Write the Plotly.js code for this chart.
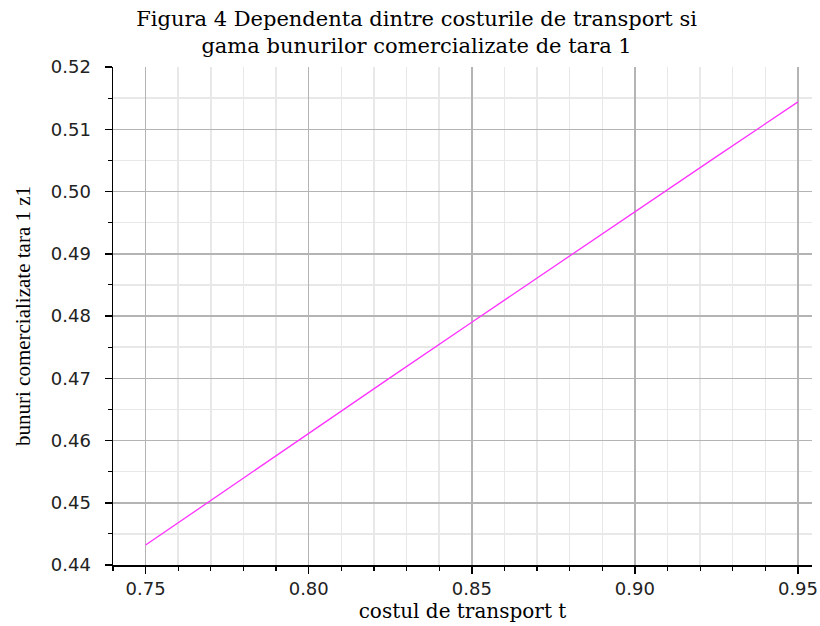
<!DOCTYPE html>
<html>
<head>
<meta charset="utf-8">
<script src="https://cdn.plot.ly/plotly-3.0.1.min.js"></script>
<style>html,body{margin:0;padding:0;background:#fff;}#chart{width:820px;height:626px;}</style>
</head>
<body>
<div id="chart"></div>
<script>
const transportCost = [0.75, 0.775, 0.80, 0.825, 0.85, 0.875, 0.90, 0.925, 0.95];
const goodsShare = [0.4432, 0.4522, 0.4612, 0.4701, 0.4790, 0.4879, 0.4967, 0.5056, 0.5144];
const titleText = "Figura 4 Dependenta dintre costurile de transport si<br>gama bunurilor comercializate de tara 1";
const xTitle = "costul de transport t";
const yTitle = "bunuri comercializate tara 1 z1";

const trace = {
  x: transportCost, y: goodsShare, type: 'scatter', mode: 'lines',
  line: {color: '#ff33ff', width: 1.3}, hoverinfo: 'skip'
};
const layout = {
  width: 820, height: 626,
  margin: {l: 113, r: 8, t: 67, b: 61},
  paper_bgcolor: '#fff', plot_bgcolor: '#fff',
  showlegend: false,
  title: {text: titleText, xref: 'container', x: 0.508, xanchor: 'center', yref: 'container', y: 0.959, yanchor: 'middle',
    font: {family: 'DejaVu Serif', size: 21, color: '#000'}},
  xaxis: {
    range: [0.740, 0.9543], tickmode: 'linear', tick0: 0.75, dtick: 0.05, tickformat: '.2f',
    showgrid: true, gridcolor: '#b4b4b4', gridwidth: 1.5, zeroline: false,
    showline: true, linecolor: '#000', linewidth: 1.5, mirror: false,
    ticks: 'outside', ticklen: 7, tickwidth: 1.5, tickcolor: '#000',
    tickfont: {family: 'DejaVu Sans', size: 18, color: '#222'},
    minor: {dtick: 0.01, showgrid: true, gridcolor: '#e8e8e8', gridwidth: 1.5, ticks: 'outside', ticklen: 4, tickcolor: '#000', tickwidth: 1.2},
    title: {text: xTitle, standoff: 6, font: {family: 'DejaVu Serif', size: 20, color: '#000'}}
  },
  yaxis: {
    range: [0.44, 0.52], tickmode: 'linear', tick0: 0.44, dtick: 0.01, tickformat: '.2f',
    showgrid: true, gridcolor: '#b4b4b4', gridwidth: 1.5, zeroline: false,
    showline: true, linecolor: '#000', linewidth: 1.5,
    ticks: 'outside', ticklen: 7, tickwidth: 1.5, tickcolor: '#000',
    ticklabelstandoff: 10,
    tickfont: {family: 'DejaVu Sans', size: 18, color: '#222'},
    minor: {dtick: 0.005, showgrid: true, gridcolor: '#e8e8e8', gridwidth: 1.5, ticks: 'outside', ticklen: 4, tickcolor: '#000', tickwidth: 1.2},
    title: {text: yTitle, standoff: 14, font: {family: 'Liberation Serif', size: 21, color: '#000'}}
  }
};
Plotly.newPlot('chart', [trace], layout, {displayModeBar: false, staticPlot: true});
</script>
</body>
</html>
